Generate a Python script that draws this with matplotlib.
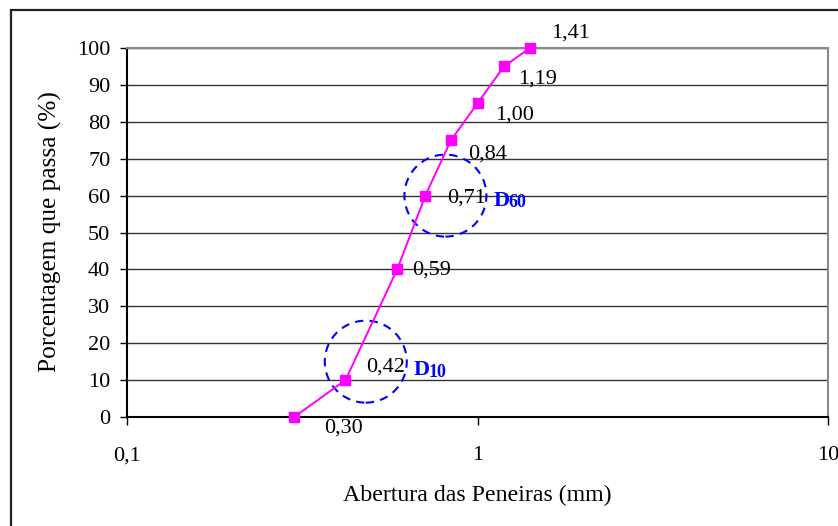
import matplotlib
matplotlib.use("Agg")
import matplotlib.pyplot as plt
from matplotlib.patches import Ellipse, Rectangle

# sieve openings (mm) and percent passing
ABERTURA = [0.30, 0.42, 0.59, 0.71, 0.84, 1.00, 1.19, 1.41]
PASSA = [0, 10, 40, 60, 75, 85, 95, 100]
Y_TICKS = [0, 10, 20, 30, 40, 50, 60, 70, 80, 90, 100]
X_TICKS = [0.1, 1, 10]
X_TICKLABELS = ["0,1", "1", "10"]
# characteristic diameters marked with dashed circles: (name, subscript, centre x, centre y)
MARKS = [("D", "10", 0.48, 15), ("D", "60", 0.81, 60)]

# label offsets in pixels (dx, dy), one per point
LABEL_OFF = [(30, -11), (21, 13), (15, -1), (22, -2), (17, -14), (18, -12), (14, -13), (21, 15)]
# where the D labels sit relative to the point they describe
MARK_LABEL = [(1, 68), (3, 68)]   # (point index, dx px)

MAGENTA = "#FF00FF"
BLUE = "#0000FF"
INK = "#000000"
GRID = "#333333"
FONT = "Liberation Serif"
FS = 16

plt.rcParams.update({
    "font.family": FONT,
    "font.size": FS,
    "figure.facecolor": "white",
    "axes.facecolor": "white",
})

W, H = 838, 526
fig = plt.figure(figsize=(W / 100, H / 100), dpi=100)
L, R, T, B = 127, 828, 48, 417
ax = fig.add_axes([L / W, 1 - B / H, (R - L) / W, (B - T) / H])

ax.plot(ABERTURA, PASSA, color=MAGENTA, lw=1.4, marker="s", ms=7.5,
        mfc=MAGENTA, mec=MAGENTA, zorder=4, clip_on=False)

ax.set_xscale("log")
ax.set_xlim(0.1, 10)
ax.set_ylim(0, 100)
ax.set_xticks(X_TICKS)
ax.set_xticklabels(X_TICKLABELS)
ax.xaxis.set_minor_locator(matplotlib.ticker.NullLocator())
ax.set_yticks(Y_TICKS)
ax.tick_params(axis="y", direction="out", length=5, width=1, pad=7, labelsize=FS)
ax.tick_params(axis="x", direction="out", length=6, width=1, pad=15, labelsize=FS)
ax.yaxis.grid(True, color=GRID, lw=1.0, zorder=0)
ax.set_axisbelow(True)
for s in ("left", "bottom"):
    ax.spines[s].set_color(INK)
    ax.spines[s].set_linewidth(1.5)
for s in ("top", "right"):
    ax.spines[s].set_color("#8a8a8a")
    ax.spines[s].set_linewidth(1.5)

for x, y, (dx, dy) in zip(ABERTURA, PASSA, LABEL_OFF):
    ax.annotate(("%.2f" % x).replace(".", ","), xy=(x, y), xytext=(dx, dy),
                textcoords="offset pixels", ha="left", va="center",
                fontsize=FS, color=INK, zorder=5)

# dashed circles, ~82 px across
axw, axh = R - L, B - T
to_axes = ax.transScale + ax.transLimits
for name, sub, cx, cy in MARKS:
    fx, fy = to_axes.transform((cx, cy))
    ax.add_patch(Ellipse((fx, fy), 82 / axw, 82 / axh, transform=ax.transAxes,
                         fill=False, ec=BLUE, lw=1.5, ls=(0, (4, 3)), zorder=3,
                         clip_on=False))

for (name, sub, cx, cy), (i, dx) in zip(MARKS, MARK_LABEL):
    x, y = ABERTURA[i], PASSA[i]
    dy = LABEL_OFF[i][1] - 3
    ax.annotate(name, xy=(x, y), xytext=(dx, dy), textcoords="offset pixels",
                ha="left", va="center", fontsize=FS, fontweight="bold", color=BLUE)
    ax.annotate(sub, xy=(x, y), xytext=(dx + 15.5, dy - 2), textcoords="offset pixels",
                ha="left", va="center", fontsize=13, fontweight="bold", color=BLUE)

fig.text(50 / W, 1 - 232 / H, "Porcentagem que passa (%)", rotation=90,
         ha="center", va="center", fontsize=18.3)
fig.text(477 / W, 1 - 495 / H, "Abertura das Peneiras (mm)",
         ha="center", va="center", fontsize=17.2)

# outer chart frame
fig.add_artist(Rectangle((11 / W, -0.1), 1.0, 1 - 10 / H + 0.1, transform=fig.transFigure,
                         fill=False, ec="#222222", lw=1.6))

fig.savefig("out.png", dpi=100)
